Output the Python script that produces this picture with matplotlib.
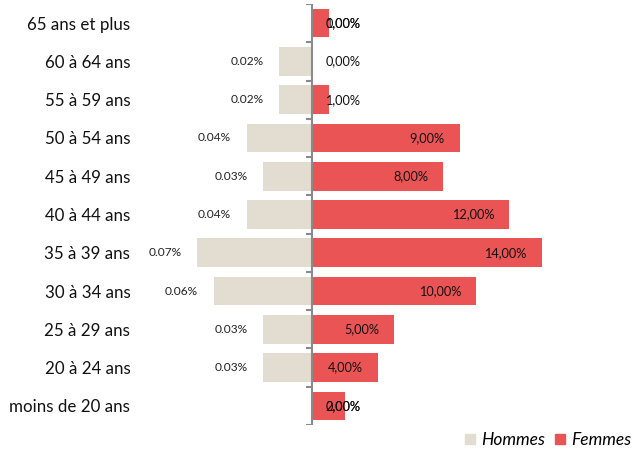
import matplotlib
matplotlib.use("Agg")
from matplotlib import pyplot as plt
from matplotlib.patches import Patch

# age groups, bottom to top
categories = ["moins de 20 ans", "20 à 24 ans", "25 à 29 ans", "30 à 34 ans",
              "35 à 39 ans", "40 à 44 ans", "45 à 49 ans", "50 à 54 ans",
              "55 à 59 ans", "60 à 64 ans", "65 ans et plus"]
# hommes shown as 0.0x% (same scale as femmes once x100)
hommes = [0, 3, 3, 6, 7, 4, 3, 4, 2, 2, 0]
hommes_labels = [None, "0.03%", "0.03%", "0.06%", "0.07%", "0.04%", "0.03%",
                 "0.04%", "0.02%", "0.02%", None]
femmes = [2, 4, 5, 10, 14, 12, 8, 9, 1, 0, 1]
femmes_labels = ["2,00%", "4,00%", "5,00%", "10,00%", "14,00%", "12,00%",
                 "8,00%", "9,00%", "1,00%", "0,00%", "1,00%"]
# second series of labels sitting on top of the first one
extra_labels = ["0,00%", None, None, None, None, None, None, None, None, None, "0,00%"]

beige = "#e3dcd0"
red = "#ea5455"
grey = "#8a8a8a"

plt.rcParams['font.family'] = ['Lato', 'DejaVu Sans']

fig = plt.figure(figsize=(6.35, 4.49), dpi=100)
ax = fig.add_axes([140 / 635, 1 - 425 / 449, 460 / 635, 421 / 449])

y = list(range(len(categories)))
ax.barh(y, [-h for h in hommes], height=0.75, color=beige)
ax.barh(y, femmes, height=0.75, color=red)

for i in y:
    if hommes_labels[i]:
        ax.text(-hommes[i] - 0.95, i, hommes_labels[i], ha="right", va="center",
                fontsize=8.6, color="#222222")
    xr = max(femmes[i] - 0.9, 2.95)
    ax.text(xr, i, femmes_labels[i], ha="right", va="center", fontsize=9.2, color="#111111")
    if extra_labels[i]:
        ax.text(xr, i, extra_labels[i], ha="right", va="center", fontsize=9.2, color="#111111")

# central axis with small ticks between groups
ax.axvline(0, color=grey, lw=1.5, zorder=3)
bounds = [k - 0.5 for k in range(len(categories) + 1)]
ax.hlines(bounds, -0.35, 0, color=grey, lw=1.5, zorder=3)

ax.set_xlim(-10.5, 17.56)
ax.set_ylim(-0.5, len(categories) - 0.5)
ax.set_yticks(y)
ax.set_yticklabels(categories, fontsize=12.2, color="#111111")
ax.tick_params(axis="y", length=0, pad=7)
ax.set_xticks([])
for s in ax.spines.values():
    s.set_visible(False)

handles = [Patch(color=beige, label="Hommes"), Patch(color=red, label="Femmes")]
fig.legend(handles=handles, loc="center right", bbox_to_anchor=(0.997, 9 / 449),
           ncol=2, frameon=False, prop={"style": "italic", "size": 12.5},
           handlelength=0.55, handleheight=0.55, handletextpad=0.35, columnspacing=0.6,
           borderaxespad=0.0, borderpad=0.1)

fig.savefig("out.png", dpi=100)
